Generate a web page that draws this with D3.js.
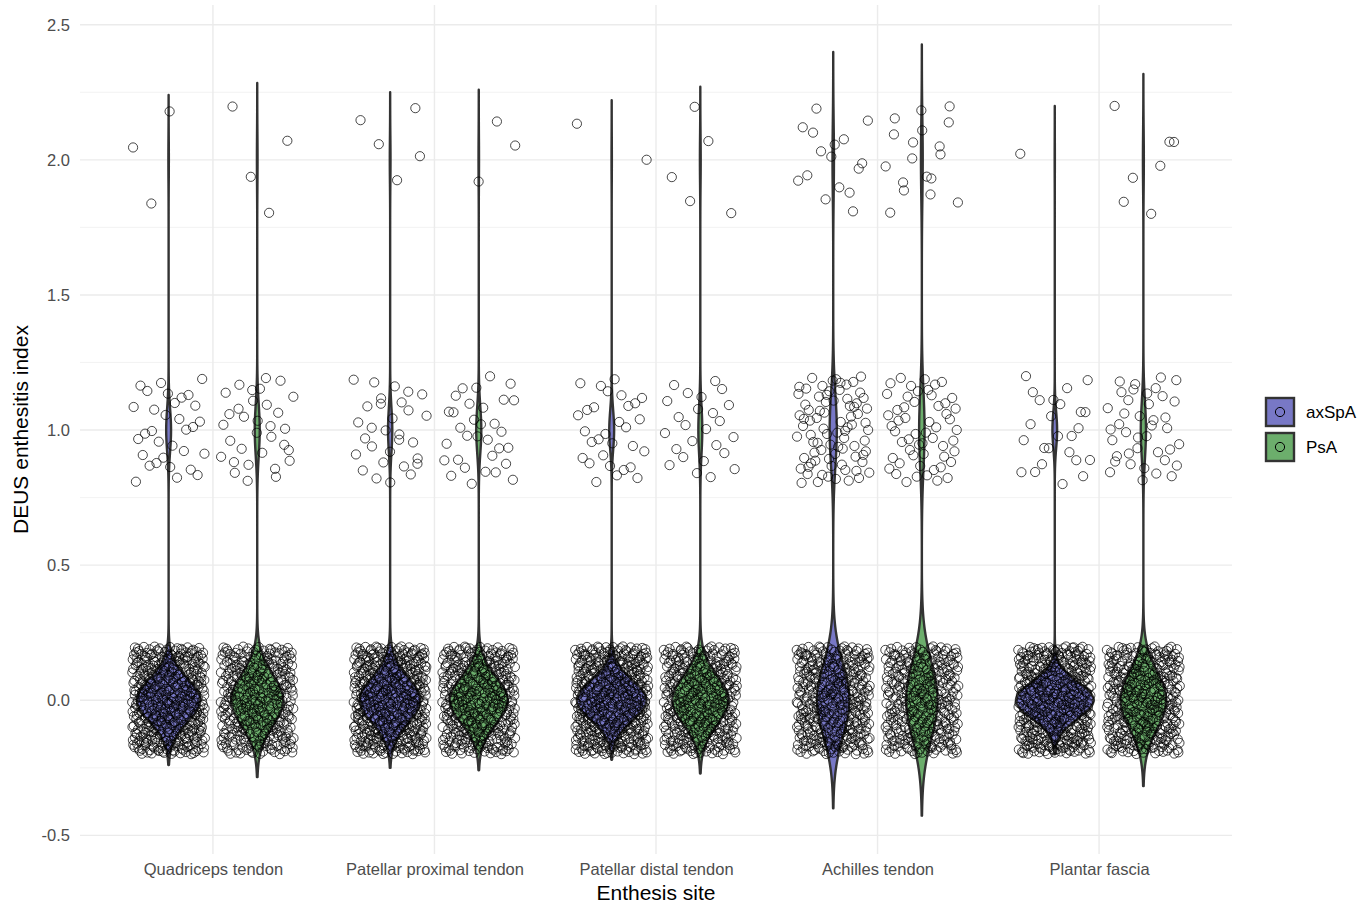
<!DOCTYPE html>
<html>
<head>
<meta charset="utf-8">
<script src="https://cdn.jsdelivr.net/npm/d3@7"></script>
<style>
  body { margin: 0; background: #fff; }
  svg text { font-family: "Liberation Sans", Arial, sans-serif; }
</style>
</head>
<body>
<div id="chart"></div>
<script>
// DEUS enthesitis index by enthesis site, violin + jittered points

var sites = ["Quadriceps tendon", "Patellar proximal tendon", "Patellar distal tendon", "Achilles tendon", "Plantar fascia"];
var groups = ["axSpA", "PsA"];
var scoreValues = [0, 1, 2];
// number of observations with score 0, 1, 2 for each site
var axSpACounts = [[415, 32, 3], [430, 30, 5], [428, 30, 2], [364, 80, 16], [414, 25, 1]];
var psACounts   = [[334, 32, 4], [365, 32, 3], [355, 25, 5], [317, 55, 18], [353, 40, 7]];
var yTicks = [-0.5, 0, 0.5, 1, 1.5, 2, 2.5];
var yMinorTicks = [-0.25, 0.25, 0.75, 1.25, 1.75, 2.25];
var groupColors = ["#7878c6", "#6cae6c"];

var width = 1368, height = 905;
var panel = { left: 80, right: 1232, top: 5, bottom: 854 };

var svg = d3.select("#chart").append("svg")
    .attr("width", width)
    .attr("height", height);

var x = d3.scalePoint().domain(sites).range([panel.left, panel.right]).padding(0.6);
var step = x.step();
var xGroup = d3.scalePoint().domain(groups).range([-0.2 * step, 0.2 * step]);
var y = d3.scaleLinear().domain([-0.569, 2.573]).range([panel.bottom, panel.top]);
var color = d3.scaleOrdinal().domain(groups).range(groupColors);

/* grid */
var grid = svg.append("g");
grid.selectAll(".minor").data(yMinorTicks).enter().append("line")
    .attr("x1", panel.left).attr("x2", panel.right)
    .attr("y1", function(d) { return y(d); }).attr("y2", function(d) { return y(d); })
    .attr("stroke", "#f0f0f0").attr("stroke-width", 0.8);
grid.selectAll(".major").data(yTicks).enter().append("line")
    .attr("x1", panel.left).attr("x2", panel.right)
    .attr("y1", function(d) { return y(d); }).attr("y2", function(d) { return y(d); })
    .attr("stroke", "#ebebeb").attr("stroke-width", 1.4);
grid.selectAll(".vmajor").data(sites).enter().append("line")
    .attr("x1", function(d) { return x(d); }).attr("x2", function(d) { return x(d); })
    .attr("y1", panel.top).attr("y2", panel.bottom)
    .attr("stroke", "#ebebeb").attr("stroke-width", 1.4);

/* build raw observations */
var series = [];
sites.forEach(function(site, i) {
    [axSpACounts[i], psACounts[i]].forEach(function(counts, g) {
        var values = [];
        counts.forEach(function(c, k) {
            for (var j = 0; j < c; j++) values.push(scoreValues[k]);
        });
        series.push({ site: site, group: groups[g], values: values });
    });
});

/* kernel density like R density(), bw.nrd0, trim = FALSE */
function bwNrd0(v) {
    var sd = d3.deviation(v);
    var sorted = v.slice().sort(d3.ascending);
    var iqr = d3.quantileSorted(sorted, 0.75) - d3.quantileSorted(sorted, 0.25);
    var lo = Math.min(sd, iqr / 1.34);
    if (!lo) lo = sd;
    return 0.9 * lo * Math.pow(v.length, -0.2);
}

series.forEach(function(s) {
    var bw = bwNrd0(s.values);
    var lo = d3.min(s.values) - 3 * bw, hi = d3.max(s.values) + 3 * bw;
    var n = s.values.length;
    var tally = d3.rollup(s.values, function(v) { return v.length; }, function(d) { return d; });
    s.density = d3.range(512).map(function(k) {
        var t = lo + (hi - lo) * k / 511;
        var dens = 0;
        tally.forEach(function(c, val) {
            var z = (t - val) / bw;
            dens += c * Math.exp(-0.5 * z * z);
        });
        return { y: t, density: dens / (n * bw * Math.sqrt(2 * Math.PI)) };
    });
});

var maxDensity = d3.max(series, function(s) { return d3.max(s.density, function(d) { return d.density; }); });
var halfWidth = d3.scaleLinear().domain([0, maxDensity]).range([0, 0.175 * step]);

/* violins */
var area = d3.area()
    .y(function(d) { return y(d.y); })
    .curve(d3.curveLinear);

svg.append("g").selectAll("path").data(series).enter().append("path")
    .attr("d", function(s) {
        var cx = x(s.site) + xGroup(s.group);
        return area
            .x0(function(d) { return cx - halfWidth(d.density); })
            .x1(function(d) { return cx + halfWidth(d.density); })(s.density);
    })
    .attr("fill", function(s) { return color(s.group); })
    .attr("stroke", "#333333")
    .attr("stroke-width", 2.4)
    .attr("stroke-linejoin", "round");

/* jittered points, spread with a Halton sequence */
function halton(i, b) {
    var f = 1, r = 0;
    while (i > 0) { f = f / b; r += f * (i % b); i = Math.floor(i / b); }
    return r;
}

var points = [];
series.forEach(function(s, si) {
    s.values.forEach(function(v, j) {
        var k = j + 1 + si * 37;
        points.push({
            px: x(s.site) + xGroup(s.group) + (halton(k, 2) * 2 - 1) * 0.165 * step,
            py: v + (halton(k, 3) * 2 - 1) * 0.2
        });
    });
});

svg.append("g").selectAll("circle").data(points).enter().append("circle")
    .attr("cx", function(d) { return d.px; })
    .attr("cy", function(d) { return y(d.py); })
    .attr("r", 4.6)
    .attr("fill", "none")
    .attr("stroke", "#000")
    .attr("stroke-opacity", 0.8)
    .attr("stroke-width", 0.9);

/* axes */
var yAxis = svg.append("g")
    .attr("transform", "translate(" + (panel.left - 4) + ",0)")
    .call(d3.axisLeft(y).tickValues(yTicks).tickSize(0).tickPadding(6)
        .tickFormat(function(d) { return d.toFixed(1); }));
yAxis.select(".domain").remove();
yAxis.selectAll("text").attr("font-size", 16.5).attr("fill", "#4d4d4d");

var xAxis = svg.append("g")
    .attr("transform", "translate(0," + (panel.bottom + 3) + ")")
    .call(d3.axisBottom(x).tickSize(0).tickPadding(6));
xAxis.select(".domain").remove();
xAxis.selectAll("text").attr("font-size", 16.5).attr("fill", "#4d4d4d");

svg.append("text")
    .attr("x", (panel.left + panel.right) / 2)
    .attr("y", 900)
    .attr("text-anchor", "middle")
    .attr("font-size", 21)
    .attr("fill", "#000")
    .text("Enthesis site");

svg.append("text")
    .attr("transform", "translate(28," + ((panel.top + panel.bottom) / 2) + ") rotate(-90)")
    .attr("text-anchor", "middle")
    .attr("font-size", 21)
    .attr("fill", "#000")
    .text("DEUS enthesitis index");

/* legend */
var legend = svg.append("g").attr("transform", "translate(1266,398)");
var item = legend.selectAll("g").data(groups).enter().append("g")
    .attr("transform", function(d, i) { return "translate(0," + (i * 35) + ")"; });
item.append("rect")
    .attr("width", 28).attr("height", 28)
    .attr("fill", function(d) { return color(d); })
    .attr("stroke", "#333333").attr("stroke-width", 2.4);
item.append("circle")
    .attr("cx", 14).attr("cy", 14).attr("r", 4.6)
    .attr("fill", "none").attr("stroke", "#000").attr("stroke-width", 1);
item.append("text")
    .attr("x", 40).attr("y", 14).attr("dy", "0.35em")
    .attr("font-size", 17).attr("fill", "#000")
    .text(function(d) { return d; });
</script>
</body>
</html>
